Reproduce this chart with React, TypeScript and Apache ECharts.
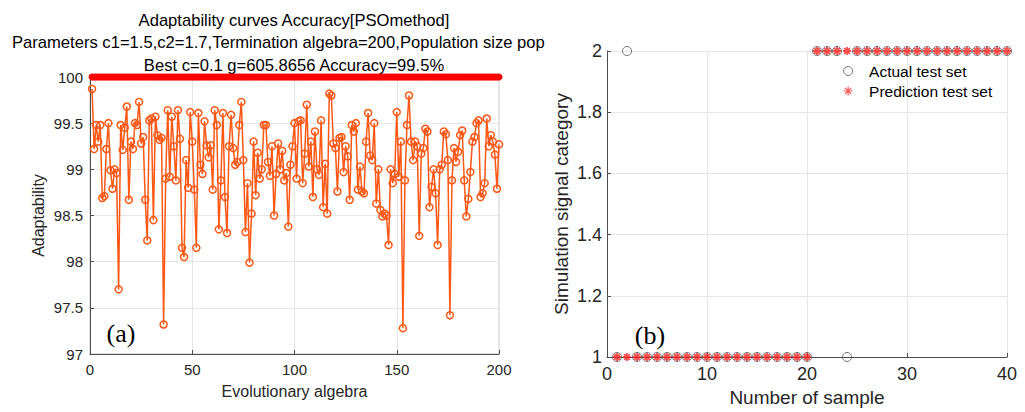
import React, { useEffect, useRef } from "react";
import * as echarts from "echarts";

const adaptability = [
  99.87, 99.22, 99.48, 99.30, 99.48, 98.69, 98.71, 99.22, 99.50, 98.99,
  98.79, 99.00, 98.96, 97.70, 99.48, 99.21, 99.45, 99.68, 98.67, 99.30,
  99.22, 99.50, 99.48, 99.73, 99.28, 99.35, 98.67, 98.23, 99.53, 99.55,
  98.45, 99.57, 99.37, 99.32, 99.34, 97.32, 98.90, 99.64, 98.92, 99.57,
  99.25, 98.88, 99.64, 99.33, 98.15, 98.05, 99.10, 98.80, 99.62, 99.30,
  98.78, 98.15, 99.61, 99.05, 98.95, 99.52, 99.26, 99.13, 99.26, 98.78,
  99.64, 99.48, 98.35, 98.88, 99.61, 98.70, 98.31, 99.25, 99.59, 99.23,
  99.05, 99.08, 99.48, 99.73, 99.10, 98.32, 98.85, 97.99, 98.52, 99.30,
  98.72, 99.18, 98.90, 99.00, 99.48, 99.48, 99.08, 98.93, 99.25, 98.50,
  98.95, 99.28, 99.00, 99.20, 98.88, 98.96, 98.38, 99.05, 99.25, 99.50,
  98.90, 99.52, 99.53, 98.85, 99.17, 99.70, 99.03, 99.30, 98.70, 99.41,
  99.00, 98.94, 99.53, 98.59, 99.06, 98.52, 99.82, 99.80, 99.28, 99.23,
  98.76, 99.34, 99.35, 98.97, 99.25, 99.14, 98.67, 99.48, 99.41, 99.50,
  98.78, 99.03, 98.76, 98.74, 99.30, 99.61, 99.15, 99.10, 99.50, 98.63,
  99.00, 98.56, 98.49, 98.52, 98.50, 98.18, 99.00, 98.85, 98.95, 99.62,
  98.92, 99.30, 97.28, 98.88, 99.48, 99.80, 99.30, 99.10, 99.30, 99.25,
  98.28, 99.17, 99.23, 99.44, 99.41, 98.59, 98.81, 99.00, 98.74, 98.18,
  99.00, 99.05, 99.41, 99.38, 99.10, 97.42, 98.88, 99.23, 99.08, 99.19,
  99.37, 99.42, 98.88, 98.49, 98.68, 98.97, 99.30, 99.35, 99.50, 99.53,
  98.70, 98.74, 98.85, 99.55, 99.25, 99.37, 99.30, 99.16, 98.79, 99.27,
];

const bestAccuracy = [
  100, 100, 100, 100, 100, 100, 100, 100, 100, 100, 100, 100, 100, 100, 100, 100, 100, 100, 100, 100,
  100, 100, 100, 100, 100, 100, 100, 100, 100, 100, 100, 100, 100, 100, 100, 100, 100, 100, 100, 100,
  100, 100, 100, 100, 100, 100, 100, 100, 100, 100, 100, 100, 100, 100, 100, 100, 100, 100, 100, 100,
  100, 100, 100, 100, 100, 100, 100, 100, 100, 100, 100, 100, 100, 100, 100, 100, 100, 100, 100, 100,
  100, 100, 100, 100, 100, 100, 100, 100, 100, 100, 100, 100, 100, 100, 100, 100, 100, 100, 100, 100,
  100, 100, 100, 100, 100, 100, 100, 100, 100, 100, 100, 100, 100, 100, 100, 100, 100, 100, 100, 100,
  100, 100, 100, 100, 100, 100, 100, 100, 100, 100, 100, 100, 100, 100, 100, 100, 100, 100, 100, 100,
  100, 100, 100, 100, 100, 100, 100, 100, 100, 100, 100, 100, 100, 100, 100, 100, 100, 100, 100, 100,
  100, 100, 100, 100, 100, 100, 100, 100, 100, 100, 100, 100, 100, 100, 100, 100, 100, 100, 100, 100,
  100, 100, 100, 100, 100, 100, 100, 100, 100, 100, 100, 100, 100, 100, 100, 100, 100, 100, 100, 100,
];

const sampleIndex = [
  1, 2, 3, 4, 5, 6, 7, 8, 9, 10, 11, 12, 13, 14, 15, 16, 17, 18, 19, 20,
  21, 22, 23, 24, 25, 26, 27, 28, 29, 30, 31, 32, 33, 34, 35, 36, 37, 38, 39, 40,
];
const actualTestSet = [
  1, 2, 1, 1, 1, 1, 1, 1, 1, 1, 1, 1, 1, 1, 1, 1, 1, 1, 1, 1,
  2, 2, 2, 1, 2, 2, 2, 2, 2, 2, 2, 2, 2, 2, 2, 2, 2, 2, 2, 2,
];
const predictionTestSet = [
  1, 1, 1, 1, 1, 1, 1, 1, 1, 1, 1, 1, 1, 1, 1, 1, 1, 1, 1, 1,
  2, 2, 2, 2, 2, 2, 2, 2, 2, 2, 2, 2, 2, 2, 2, 2, 2, 2, 2, 2,
];

const titleLines = [
  "Adaptability curves Accuracy[PSOmethod]",
  "Parameters c1=1.5,c2=1.7,Termination algebra=200,Population size pop",
  "Best c=0.1 g=605.8656 Accuracy=99.5%",
];

const FONT = "'Liberation Sans', Arial, sans-serif";
const SERIF = "'Liberation Serif', 'Times New Roman', serif";
const AXIS_COLOR = "#4d4d4d";
const GRID_COLOR = "#e6e6e6";
const TEXT_COLOR = "#262626";
const ORANGE = "#ff5714";
const ASTERISK = "path://M0,5L10,5M5,0L5,10M1.5,1.5L8.5,8.5M8.5,1.5L1.5,8.5";

const fmt = (v: number) => String(+v.toFixed(2));

export default function App() {
  const ref = useRef<HTMLDivElement>(null);

  useEffect(() => {
    document.body.style.margin = "0";
    if (!ref.current) return;
    const chart = echarts.init(ref.current, null, { renderer: "svg" });
    const generations = adaptability.map((_, i) => i + 1);

    const axisCommon = {
      axisLine: { show: true, lineStyle: { color: AXIS_COLOR, width: 1 } },
      axisTick: { show: true, inside: true, length: 4, lineStyle: { color: AXIS_COLOR } },
      splitLine: { show: true, lineStyle: { color: GRID_COLOR, width: 1 } },
      nameLocation: "middle" as const,
    };

    chart.setOption({
      animation: false,
      backgroundColor: "#ffffff",
      textStyle: { fontFamily: FONT },
      grid: [
        { left: 90, top: 77, width: 409, height: 277, show: true, borderColor: "#c8c8c8", borderWidth: 1, backgroundColor: "transparent" },
        { left: 607, top: 51, width: 400, height: 306 },
      ],
      xAxis: [
        {
          ...axisCommon,
          type: "value",
          gridIndex: 0,
          min: 0,
          max: 200,
          interval: 50,
          name: "Evolutionary algebra",
          nameGap: 29,
          nameTextStyle: { fontSize: 16, color: TEXT_COLOR, fontFamily: FONT },
          axisLabel: { fontSize: 15, color: TEXT_COLOR, margin: 8, formatter: fmt },
        },
        {
          ...axisCommon,
          type: "value",
          gridIndex: 1,
          min: 0,
          max: 40,
          interval: 10,
          name: "Number of sample",
          nameGap: 31,
          nameTextStyle: { fontSize: 19, color: TEXT_COLOR, fontFamily: FONT },
          axisLabel: { fontSize: 18, color: TEXT_COLOR, margin: 8, formatter: fmt },
        },
      ],
      yAxis: [
        {
          ...axisCommon,
          type: "value",
          gridIndex: 0,
          min: 97,
          max: 100,
          interval: 0.5,
          name: "Adaptability",
          nameGap: 44,
          nameTextStyle: { fontSize: 16, color: TEXT_COLOR, fontFamily: FONT },
          axisLabel: { fontSize: 15, color: TEXT_COLOR, margin: 7, formatter: fmt },
        },
        {
          ...axisCommon,
          type: "value",
          gridIndex: 1,
          min: 1,
          max: 2,
          interval: 0.2,
          name: "Simulation signal category",
          nameGap: 36,
          nameTextStyle: { fontSize: 19, color: TEXT_COLOR, fontFamily: FONT },
          axisLabel: { fontSize: 18, color: TEXT_COLOR, margin: 5, formatter: fmt },
        },
      ],
      legend: {
        left: 843,
        top: 63,
        orient: "vertical",
        itemWidth: 32,
        itemHeight: 9,
        itemGap: 4,
        padding: 0,
        textStyle: { fontSize: 15.5, color: "#000", fontFamily: FONT },
        data: [
          { name: "Actual test set", icon: "circle", itemStyle: { color: "transparent", borderColor: "#555", borderWidth: 1 } },
          { name: "Prediction test set", icon: ASTERISK, itemStyle: { color: "#ff0000", borderColor: "#ff3030", borderWidth: 1.2 } },
        ],
      },
      series: [
        {
          name: "Best",
          type: "line",
          xAxisIndex: 0,
          yAxisIndex: 0,
          data: generations.map((g, i) => [g, bestAccuracy[i]]),
          symbol: "circle",
          symbolSize: 7,
          showSymbol: true,
          clip: false,
          lineStyle: { color: "#ff0000", width: 2.5 },
          itemStyle: { color: "#ff0000" },
          z: 3,
        },
        {
          name: "Adaptability",
          type: "line",
          xAxisIndex: 0,
          yAxisIndex: 0,
          data: generations.map((g, i) => [g, adaptability[i]]),
          symbol: "circle",
          symbolSize: 7,
          showSymbol: true,
          lineStyle: { color: ORANGE, width: 1.5 },
          itemStyle: { color: "transparent", borderColor: ORANGE, borderWidth: 1.5 },
          z: 2,
        },
        {
          name: "Actual test set",
          type: "scatter",
          xAxisIndex: 1,
          yAxisIndex: 1,
          data: sampleIndex.map((s, i) => [s, actualTestSet[i]]),
          symbol: "circle",
          symbolSize: 9,
          clip: false,
          itemStyle: { color: "transparent", borderColor: "#555", borderWidth: 1 },
          z: 2,
        },
        {
          name: "Prediction test set",
          type: "scatter",
          xAxisIndex: 1,
          yAxisIndex: 1,
          data: sampleIndex.map((s, i) => [s, predictionTestSet[i]]),
          symbol: ASTERISK,
          symbolSize: 8,
          clip: false,
          itemStyle: { color: "#ff0000", borderColor: "#ff2020", borderWidth: 1.8 },
          z: 3,
        },
      ],
      graphic: [
        { type: "text", x: 294, y: 20, style: { text: titleLines[0], fontSize: 16.6, fontFamily: FONT, fill: "#000", align: "center", verticalAlign: "middle" } },
        { type: "text", x: 12, y: 42, style: { text: titleLines[1], fontSize: 16.6, fontFamily: FONT, fill: "#000", align: "left", verticalAlign: "middle" } },
        { type: "text", x: 294, y: 65, style: { text: titleLines[2], fontSize: 16.6, fontFamily: FONT, fill: "#000", align: "center", verticalAlign: "middle" } },
        { type: "text", x: 121, y: 333, style: { text: "(a)", fontSize: 26, fontFamily: SERIF, fill: "#000", align: "center", verticalAlign: "middle" } },
        { type: "text", x: 650, y: 335, style: { text: "(b)", fontSize: 26, fontFamily: SERIF, fill: "#000", align: "center", verticalAlign: "middle" } },
      ],
    });

    return () => chart.dispose();
  }, []);

  return <div ref={ref} style={{ width: 1025, height: 412 }} />;
}
